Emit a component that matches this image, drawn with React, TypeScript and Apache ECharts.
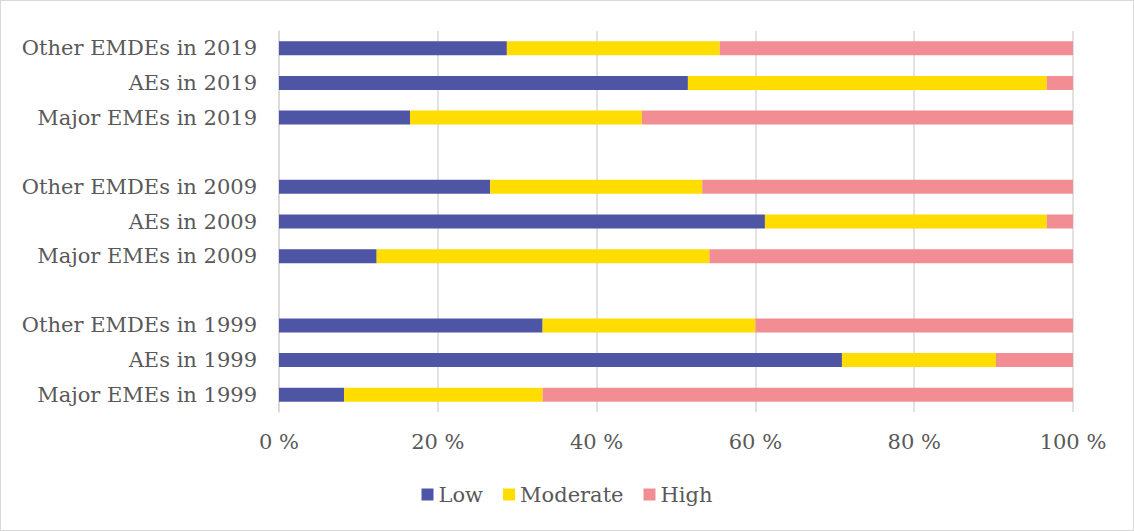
import React, { useEffect, useRef } from "react";
import * as echarts from "echarts";

const categories = [
  "Major EMEs in 1999",
  "AEs in 1999",
  "Other EMDEs in 1999",
  "",
  "Major EMEs in 2009",
  "AEs in 2009",
  "Other EMDEs in 2009",
  " ",
  "Major EMEs in 2019",
  "AEs in 2019",
  "Other EMDEs in 2019",
];
const low = [8.2, 70.9, 33.2, null, 12.3, 61.2, 26.6, null, 16.5, 51.5, 28.7];
const moderate = [25.0, 19.4, 26.8, null, 41.9, 35.5, 26.7, null, 29.2, 45.2, 26.8];
const high = [66.8, 9.7, 40.0, null, 45.8, 3.3, 46.7, null, 54.3, 3.3, 44.5];
const seriesNames = ["Low", "Moderate", "High"];
const colors = ["#4e55a4", "#ffdd00", "#f28e93"];

const FONT = "'DejaVu Serif', 'Liberation Serif', serif";
const TEXT = "#595959";

export default function App() {
  const ref = useRef<HTMLDivElement>(null);
  useEffect(() => {
    document.body.style.margin = "0";
    const chart = echarts.init(ref.current!, null, { renderer: "svg" });
    const datas = [low, moderate, high];
    chart.setOption({
      animation: false,
      textStyle: { fontFamily: FONT, color: TEXT },
      grid: { left: 279, right: 61, top: 31, bottom: 119 },
      legend: {
        data: seriesNames,
        top: 479,
        left: "center",
        icon: "rect",
        itemWidth: 12,
        itemHeight: 12,
        itemGap: 20,
        textStyle: { fontFamily: FONT, color: TEXT, fontSize: 21 },
      },
      xAxis: {
        type: "value",
        min: 0,
        max: 100,
        interval: 20,
        axisLine: { show: false },
        axisTick: { show: false },
        splitLine: { lineStyle: { color: "#d9d9d9", width: 1.5 } },
        axisLabel: {
          formatter: "{value} %",
          fontFamily: FONT,
          color: TEXT,
          fontSize: 21,
          margin: 19,
        },
      },
      yAxis: {
        type: "category",
        data: categories,
        axisLine: { show: true, lineStyle: { color: "#d9d9d9", width: 1.5 } },
        axisTick: { show: false },
        axisLabel: { fontFamily: FONT, color: TEXT, fontSize: 21, margin: 22 },
      },
      series: seriesNames.map((name, i) => ({
        name,
        type: "bar",
        stack: "total",
        barWidth: 14,
        data: datas[i],
        itemStyle: { color: colors[i] },
      })),
    });
    return () => chart.dispose();
  }, []);
  return (
    <div
      style={{
        width: 1134,
        height: 531,
        boxSizing: "border-box",
        border: "1px solid #d9d9d9",
        position: "relative",
      }}
    >
      <div ref={ref} style={{ position: "absolute", left: -1, top: -1, width: 1134, height: 531 }} />
    </div>
  );
}
